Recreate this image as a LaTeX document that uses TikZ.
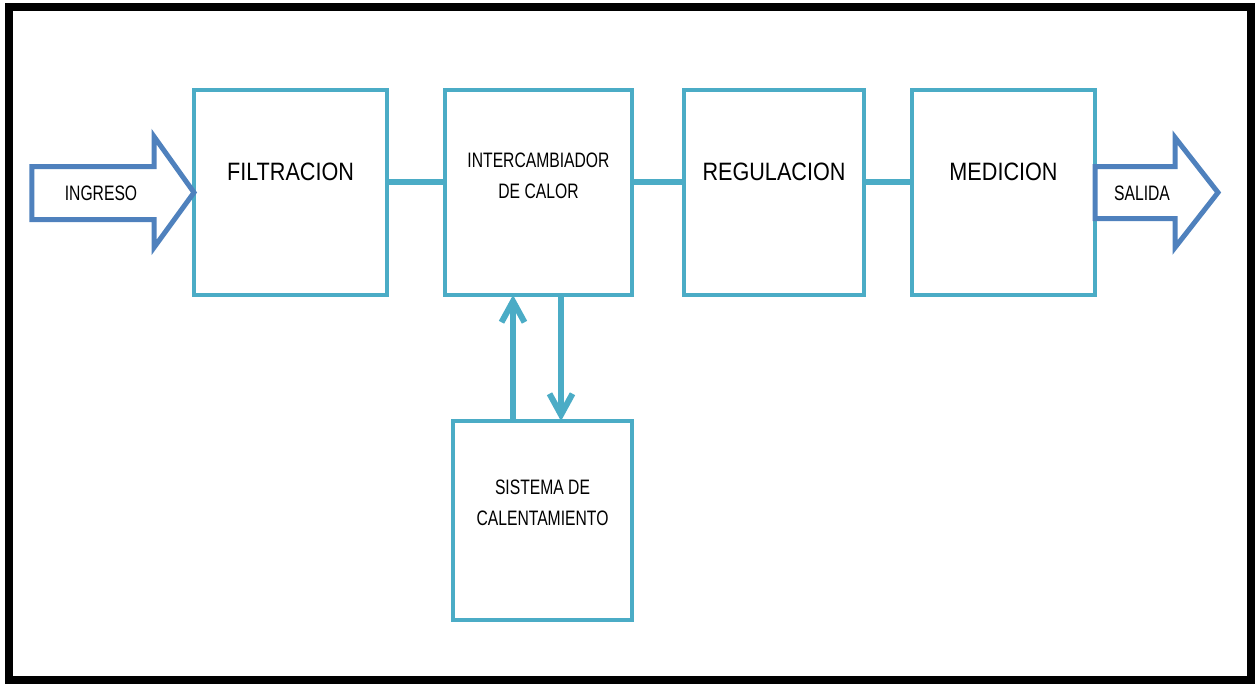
\documentclass[tikz,border=0pt]{standalone}
\usepackage{fontspec}
\usepackage{tikz}
\usetikzlibrary{arrows.meta,calc,positioning}
\newfontfamily\rotulo[FakeStretch=0.86]{Liberation Sans}
\newfontfamily\rotulochico[FakeStretch=0.75]{Liberation Sans}
\definecolor{bloquecian}{RGB}{75,172,198}
\definecolor{flechaazul}{RGB}{79,129,189}

\begin{document}
\begin{tikzpicture}[x=0.2mm,y=-0.2mm,line join=miter,
  bloque/.style={draw=bloquecian,line width=.8mm,inner sep=0pt,outer sep=0pt,
    minimum height=41mm},
  grande/.style={font=\rotulo\fontsize{14.3}{17}\selectfont},
  chico/.style={font=\rotulochico\fontsize{11.9}{17.5}\selectfont,align=center},
  enlace/.style={draw=bloquecian,line width=1.2mm},
  flujo/.style={enlace,-{Straight Barb[length=4.2mm,width=4.6mm]}},
  bloqueflecha/.style={draw=flechaazul,line width=1mm,fill=white}]
 \useasboundingbox (0,0) rectangle (1256,683);
 \draw[line width=1.6mm] (9,7) rectangle (1251,680);
 \node[bloque,minimum width=38.6mm,
  label={[grande,yshift=4.1mm]center:FILTRACION}] (filt) at (290.5,192.5) {};
 \node[bloque,minimum width=37.4mm,
  label={[chico,yshift=3.3mm]center:INTERCAMBIADOR\\DE CALOR}] (inter) at (538.5,192.5) {};
 \node[bloque,minimum width=36mm,
  label={[grande,yshift=4.1mm]center:REGULACION}] (regul) at (774,192.5) {};
 \node[bloque,minimum width=36.6mm,
  label={[grande,yshift=4.1mm]center:MEDICION}] (medic) at (1003.5,192.5) {};
 \node[bloque,minimum width=35.8mm,minimum height=39.8mm,
  label={[chico,yshift=3.5mm]center:SISTEMA DE\\CALENTAMIENTO}] (sist) at (542.5,520.5) {};
 \draw[enlace] ([yshift=2.1mm]filt.east) -- ([yshift=2.1mm]inter.west);
 \draw[enlace] ([yshift=2.1mm]inter.east) -- ([yshift=2.1mm]regul.west);
 \draw[enlace] ([yshift=2.1mm]regul.east) -- ([yshift=2.1mm]medic.west);
 \coordinate (sube) at ([xshift=-5.1mm]inter.south);
 \coordinate (baja) at ([xshift=4.5mm]inter.south);
 \draw[flujo] (sube |- sist.north) -- (sube);
 \draw[flujo] (baja) -- (baja |- sist.north);
 \draw[bloqueflecha] (filt.west) -- ++(-40,-56) -- ++(0,30) -- ++(-122,0)
  -- ++(0,53) -- ++(122,0) -- ++(0,28) -- cycle;
 \draw[bloqueflecha] (medic.east) -- ++(0,-26) -- ++(80,0) -- ++(0,-29)
  -- ++(43,55) -- ++(-43,55) -- ++(0,-29) -- ++(-80,0) -- cycle;
 \node[chico] (ingreso) at (101,193) {INGRESO};
 \node[chico] (salida) at (1142,193) {SALIDA};
\end{tikzpicture}
\end{document}
